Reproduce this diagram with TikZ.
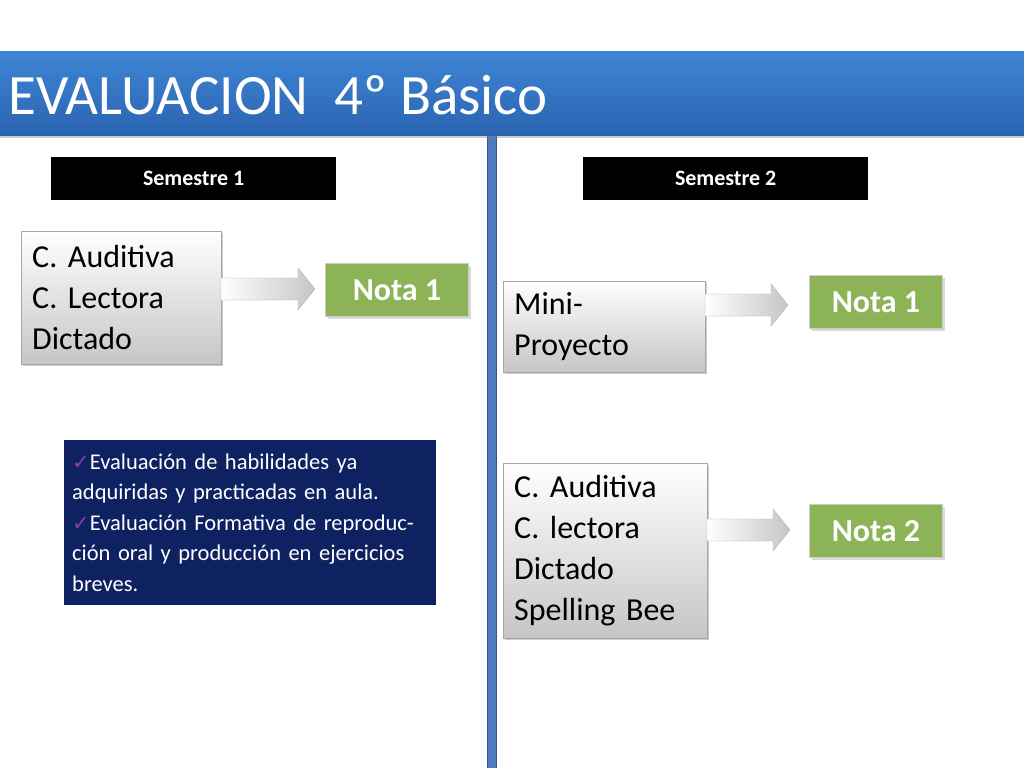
\documentclass[tikz,border=0pt]{standalone}
\usepackage{fontspec}
\setmainfont{Carlito}
\newfontfamily\djv{DejaVu Sans}
\usetikzlibrary{shadows}
\frenchspacing
\definecolor{titleA}{HTML}{2A64B0}
\definecolor{titleB}{HTML}{3F85D6}
\definecolor{navy}{HTML}{0E2262}
\definecolor{notag}{HTML}{8CB356}
\definecolor{vline}{HTML}{4E7BBE}
\definecolor{chk}{HTML}{8A3FA8}
\tikzset{
  graybox/.style={draw=gray!70, top color=white, bottom color=gray!45, drop shadow={opacity=0.4,shadow xshift=2pt,shadow yshift=-2pt}, anchor=north west, align=left, font=\fontsize{32}{41}\selectfont, inner sep=0pt},
  semb/.style={fill=black, text=white, font=\fontsize{22}{26}\selectfont\bfseries, minimum width=285pt, minimum height=43pt, anchor=north west},
  nota/.style={draw=gray!40, line width=1pt, fill=notag, text=white, font=\fontsize{32}{36}\selectfont\bfseries, anchor=north west, minimum width=#1, minimum height=53pt, drop shadow={opacity=0.3,shadow xshift=2pt,shadow yshift=-2pt}},
  arr/.style={draw=gray!60, left color=white, right color=gray!45}
}
\newcommand{\harrow}[3]{% x1 x2 y
  \path[arr] (#1,#3-11) -- (#2-17,#3-11) -- (#2-17,#3-21) -- (#2,#3) -- (#2-17,#3+21) -- (#2-17,#3+11) -- (#1,#3+11) -- cycle;}
\begin{document}
\begin{tikzpicture}[x=1pt,y=-1pt]
\useasboundingbox (0,0) rectangle (1024,768);
\fill[white] (0,0) rectangle (1024,768);
% vertical line
\fill[vline] (487,135) rectangle (496,768);
\draw[vline!70!black] (487,135) -- (487,768) (496,135) -- (496,768);
% title
\shade[top color=titleB, bottom color=titleA, drop shadow={opacity=0.4,shadow xshift=0pt,shadow yshift=-3pt}] (0,52) rectangle (1024,135);
\node[anchor=west, text=white, font=\fontsize{57}{62}\selectfont, inner sep=0pt] (title) at (8,95) {EVALUACION\ \ 4º Básico};
% semesters
\node[semb] (s1) at (51,157) {Semestre 1};
\node[semb] (s2) at (583,157) {Semestre 2};
% left column
\node[graybox, minimum width=200pt, minimum height=133pt, text width=178pt, inner xsep=11pt] (b1) at (21,231) {C. Auditiva\\C. Lectora\\Dictado};
\harrow{221}{315}{289}
\node[nota=143pt] (n1) at (325,263) {Nota 1};
\node[fill=navy, text=white, anchor=north west, minimum width=372pt, minimum height=165pt, text width=356pt, inner xsep=8pt, align=left, font=\fontsize{22.5}{30.5}\selectfont] (info) at (64,440)
  {{\djv\color{chk}\fontsize{21}{30.5}\selectfont ✓}Evaluación de habilidades ya adquiridas y practicadas en aula.\\
   {\djv\color{chk}\fontsize{21}{30.5}\selectfont ✓}Evaluación Formativa de reproducción oral y producción en ejercicios breves.};
% right column
\node[graybox, minimum width=202pt, minimum height=91pt, text width=180pt, inner xsep=11pt] (b2) at (503,281) {Mini-\\Proyecto};
\harrow{705}{788}{305}
\node[nota=133pt] (n2) at (809,275) {Nota 1};
\node[graybox, minimum width=204pt, minimum height=175pt, text width=182pt, inner xsep=11pt] (b3) at (503,463) {C. Auditiva\\C. lectora\\Dictado\\Spelling Bee};
\harrow{707}{790}{530}
\node[nota=133pt] (n3) at (809,504) {Nota 2};
\end{tikzpicture}
\end{document}
